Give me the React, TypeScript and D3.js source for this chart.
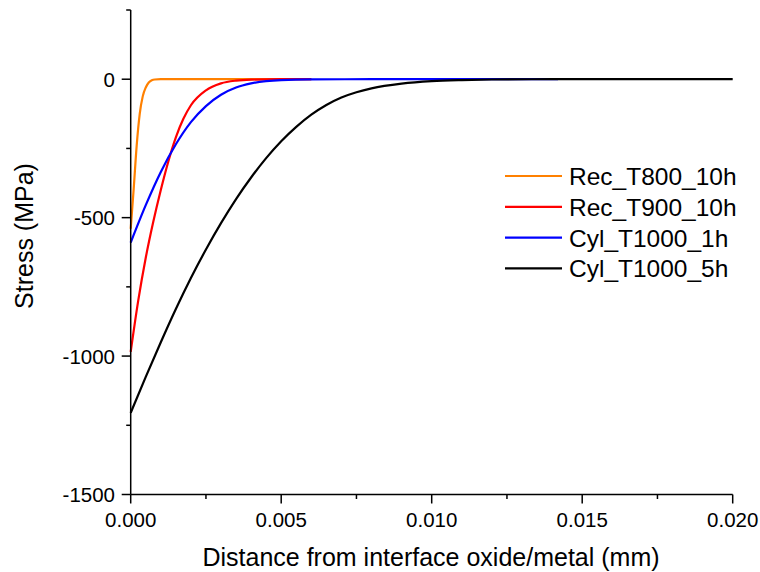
import React, { useRef, useEffect } from 'react';
import * as d3 from 'd3';

const W = 760;
const H = 572;
const FONT = '"Liberation Sans", Arial, sans-serif';

// distance (mm), stress (MPa)
const recT800 = [
  [0, -540], [0.0001, -395], [0.0002, -238], [0.0003, -125], [0.0004, -62],
  [0.0005, -30], [0.0006, -12], [0.0007, -4], [0.0008, -1], [0.001, 0],
  [0.002, 0], [0.004, 0], [0.006, 0],
];
const recT900 = [
  [0, -985], [0.00025, -800], [0.0005, -645], [0.00075, -515], [0.001, -400],
  [0.00125, -297], [0.0015, -210], [0.00175, -143], [0.002, -94], [0.0025, -40],
  [0.003, -15], [0.0035, -5], [0.004, -1.5], [0.005, 0], [0.006, 0],
];
const cylT1000_1h = [
  [0, -590], [0.0005, -455], [0.001, -335], [0.0015, -235], [0.002, -155],
  [0.0025, -97], [0.003, -56], [0.0035, -30], [0.004, -15], [0.005, -3],
  [0.006, -0.5], [0.008, 0], [0.011, 0], [0.0142, 0],
];
const cylT1000_5h = [
  [0, -1205], [0.0005, -1075], [0.001, -950], [0.0015, -830], [0.002, -718],
  [0.0025, -615], [0.003, -520], [0.0035, -433], [0.004, -355], [0.0045, -285],
  [0.005, -224], [0.0055, -172], [0.006, -128], [0.0065, -93], [0.007, -66],
  [0.0075, -47], [0.008, -33], [0.009, -16], [0.010, -7], [0.011, -3],
  [0.012, -1], [0.014, 0], [0.017, 0], [0.020, 0],
];

const seriesNames = ['Rec_T800_10h', 'Rec_T900_10h', 'Cyl_T1000_1h', 'Cyl_T1000_5h'];
const seriesData = [recT800, recT900, cylT1000_1h, cylT1000_5h];
const seriesColors = ['#FF8000', '#FF0000', '#0000FF', '#000000'];

const xMajor = [0, 0.005, 0.010, 0.015, 0.020];
const xMinor = [0.0025, 0.0075, 0.0125, 0.0175];
const yMajor = [0, -500, -1000, -1500];
const yMinor = [250, -250, -750, -1250];

export default function App() {
  const svgRef = useRef<SVGSVGElement>(null);

  useEffect(() => {
    if (!svgRef.current) return;
    const svg = d3.select(svgRef.current);
    svg.selectAll('*').remove();

    const x = d3.scaleLinear().domain([0, 0.02]).range([130.7, 732.7]);
    const y = d3.scaleLinear().domain([-1500, 250]).range([494.5, 10]);

    const line = d3.line<number[]>()
      .x(d => x(d[0])).y(d => y(d[1]))
      .curve(d3.curveMonotoneX);

    // curves
    seriesData.forEach((data, i) => {
      svg.append('path').datum(data).attr('d', line)
        .attr('fill', 'none').attr('stroke', seriesColors[i])
        .attr('stroke-width', 2.2).attr('stroke-linejoin', 'round');
    });

    // axes
    const ax = svg.append('g').attr('stroke', '#000').attr('stroke-width', 1.5);
    ax.append('line').attr('x1', x(0)).attr('x2', x(0)).attr('y1', y(250)).attr('y2', y(-1500));
    ax.append('line').attr('x1', x(0)).attr('x2', x(0.02)).attr('y1', y(-1500)).attr('y2', y(-1500));

    ax.selectAll('.xmaj').data(xMajor).join('line')
      .attr('class', 'xmaj')
      .attr('x1', d => x(d)).attr('x2', d => x(d))
      .attr('y1', y(-1500)).attr('y2', y(-1500) + 9);
    ax.selectAll('.xmin').data(xMinor).join('line')
      .attr('class', 'xmin')
      .attr('x1', d => x(d)).attr('x2', d => x(d))
      .attr('y1', y(-1500)).attr('y2', y(-1500) + 4.5);
    ax.selectAll('.ymaj').data(yMajor).join('line')
      .attr('class', 'ymaj')
      .attr('x1', x(0) - 9).attr('x2', x(0))
      .attr('y1', d => y(d)).attr('y2', d => y(d));
    ax.selectAll('.ymin').data(yMinor).join('line')
      .attr('class', 'ymin')
      .attr('x1', x(0) - 4.5).attr('x2', x(0))
      .attr('y1', d => y(d)).attr('y2', d => y(d));

    // tick labels
    svg.append('g').selectAll('text').data(xMajor).join('text')
      .attr('x', d => x(d)).attr('y', 527)
      .attr('text-anchor', 'middle').attr('font-family', FONT).attr('font-size', 20.5)
      .attr('fill', '#000').text(d => d3.format('.3f')(d));
    svg.append('g').selectAll('text').data(yMajor).join('text')
      .attr('x', 115).attr('y', d => y(d) + 7.5)
      .attr('text-anchor', 'end').attr('font-family', FONT).attr('font-size', 20.5)
      .attr('fill', '#000').text(d => String(d));

    // axis titles
    svg.append('text').attr('x', 431).attr('y', 566)
      .attr('text-anchor', 'middle').attr('font-family', FONT).attr('font-size', 25)
      .attr('fill', '#000').text('Distance from interface oxide/metal (mm)');
    svg.append('text').attr('transform', `translate(33,236) rotate(-90)`)
      .attr('text-anchor', 'middle').attr('font-family', FONT).attr('font-size', 25)
      .attr('fill', '#000').text('Stress (MPa)');

    // legend
    const lg = svg.append('g');
    seriesNames.forEach((name, i) => {
      const ly = 176 + i * 30.8;
      lg.append('line').attr('x1', 505).attr('x2', 562).attr('y1', ly).attr('y2', ly)
        .attr('stroke', seriesColors[i]).attr('stroke-width', 2.2);
      lg.append('text').attr('x', 569).attr('y', ly + 9)
        .attr('font-family', FONT).attr('font-size', 24.5).attr('fill', '#000').text(name);
    });
  }, []);

  return (
    <svg ref={svgRef} width={W} height={H}
      style={{ position: 'absolute', left: 0, top: 0, background: '#fff' }} />
  );
}
